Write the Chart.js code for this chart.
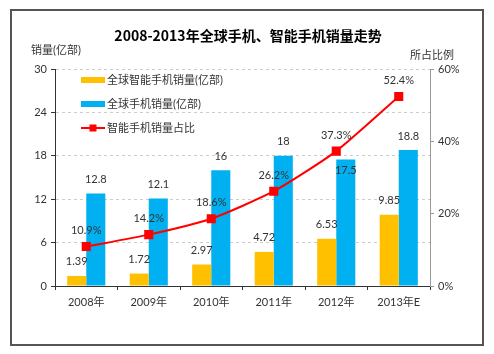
<!DOCTYPE html>
<html><head><meta charset="utf-8">
<script src="https://cdn.jsdelivr.net/npm/chart.js@4.4.0/dist/chart.umd.min.js"></script>
<style>html,body{margin:0;padding:0;background:#fff}#wrap{width:494px;height:354px;position:relative}</style>
</head><body><div id="wrap"><canvas id="c" width="494" height="354"></canvas></div>
<script>
const categories = ['2008年','2009年','2010年','2011年','2012年','2013年E'];
const smartSales = [1.39, 1.72, 2.97, 4.72, 6.53, 9.85];
const totalSales = [12.8, 12.1, 16, 18, 17.5, 18.8];
const smartShare = [10.9, 14.2, 18.6, 26.2, 37.3, 52.4];
const leftTicks = [0, 6, 12, 18, 24, 30];
const rightTicks = [0, 20, 40, 60];
const FONT = "Lato, 'Noto Sans CJK SC', sans-serif";
const TXT = '#333';

const decor = {
  id: 'decor',
  beforeDraw(chart) {
    const ctx = chart.ctx;
    ctx.save();
    ctx.fillStyle = '#fff';
    ctx.fillRect(0, 0, 494, 354);
    ctx.strokeStyle = '#555';
    ctx.lineWidth = 2;
    ctx.strokeRect(11, 10, 472, 335);
    ctx.fillStyle = '#000';
    ctx.font = "bold 14px 'Noto Sans CJK SC', sans-serif";
    ctx.textAlign = 'center';
    ctx.textBaseline = 'middle';
    ctx.fillText('2008-2013年全球手机、智能手机销量走势', 248, 36);
    ctx.fillStyle = TXT;
    ctx.font = "11px " + FONT;
    ctx.textAlign = 'left';
    ctx.fillText('销量(亿部)', 31, 50);
    ctx.fillText('所占比例', 410, 55);
    ctx.restore();
  },
  afterDatasetsDraw(chart) {
    const ctx = chart.ctx;
    ctx.save();
    ctx.font = "11px " + FONT;
    ctx.fillStyle = TXT;
    ctx.textAlign = 'center';
    ctx.textBaseline = 'middle';
    // percent label boxes
    const lineIdx = chart.data.datasets.findIndex(d => d.type === 'line');
    const lineMeta = chart.getDatasetMeta(lineIdx);
    const pctBoxes = lineMeta.data.map((el, j) => {
      const t = chart.data.datasets[lineIdx].data[j] + '%';
      const w = ctx.measureText(t).width;
      return { x1: el.x - w / 2, x2: el.x + w / 2, y1: el.y - 22, y2: el.y - 10 };
    });
    chart.data.datasets.forEach((ds, i) => {
      const meta = chart.getDatasetMeta(i);
      meta.data.forEach((el, j) => {
        const v = ds.data[j];
        if (ds.type === 'line') {
          ctx.fillText(v + '%', el.x, el.y - 16);
        } else {
          const t = String(v);
          const w = ctx.measureText(t).width;
          let y = el.y - 14;
          const b = pctBoxes[j];
          const overlap = (el.x + w / 2 > b.x1) && (el.x - w / 2 < b.x2) && (y + 6 > b.y1) && (y - 6 < b.y2);
          if (overlap) y = el.y + 11;
          ctx.fillText(t, el.x, y);
        }
      });
    });
    // legend
    const items = chart.data.datasets;
    const ys = [80, 104, 128];
    items.forEach((ds, i) => {
      const y = ys[i];
      if (ds.type === 'line') {
        ctx.strokeStyle = ds.borderColor;
        ctx.lineWidth = 2;
        ctx.beginPath(); ctx.moveTo(81, y); ctx.lineTo(105, y); ctx.stroke();
        ctx.fillStyle = ds.borderColor;
        ctx.fillRect(89.5, y - 3.5, 7, 7);
      } else {
        ctx.fillStyle = ds.backgroundColor;
        ctx.fillRect(81, y - 3, 24, 6);
      }
      ctx.fillStyle = TXT;
      ctx.textAlign = 'left';
      ctx.fillText(ds.label, 107, y);
    });
    ctx.restore();
  }
};

new Chart(document.getElementById('c'), {
  type: 'bar',
  data: {
    labels: categories,
    datasets: [
      { type: 'bar', label: '全球智能手机销量(亿部)', data: smartSales, backgroundColor: '#FFC000', yAxisID: 'y', order: 2,
        barPercentage: 1, categoryPercentage: 0.61 },
      { type: 'bar', label: '全球手机销量(亿部)', data: totalSales, backgroundColor: '#00B0F0', yAxisID: 'y', order: 2,
        barPercentage: 1, categoryPercentage: 0.61 },
      { type: 'line', label: '智能手机销量占比', data: smartShare, borderColor: '#FF0000', backgroundColor: '#FF0000',
        borderWidth: 2, pointStyle: 'rect', pointRadius: 5, pointHoverRadius: 5, yAxisID: 'y1', order: 1, tension: 0.2 }
    ]
  },
  options: {
    responsive: false,
    animation: false,
    events: [],
    layout: { padding: { top: 69, bottom: 38, left: 0, right: 0 } },
    plugins: { legend: { display: false }, title: { display: false }, tooltip: { enabled: false } },
    scales: {
      x: {
        offset: true,
        afterFit(s) { s.height = 30; },
        grid: { display: true, drawOnChartArea: false, offset: true, tickLength: 4, color: '#333' },
        border: { color: '#333', width: 1 },
        ticks: { color: TXT, font: { family: FONT, size: 11 }, padding: 6 }
      },
      y: {
        position: 'left', min: 0, max: 30,
        afterFit(s) { s.width = 55; },
        afterBuildTicks(s) { s.ticks = leftTicks.map(v => ({ value: v })); },
        grid: { color: '#ccc', tickColor: '#333', tickLength: 4 },
        border: { color: '#333', width: 1, dash: [3, 3] },
        ticks: { color: TXT, font: { family: FONT, size: 11 }, padding: 4 }
      },
      y1: {
        position: 'right', min: 0, max: 60,
        afterFit(s) { s.width = 64; },
        afterBuildTicks(s) { s.ticks = rightTicks.map(v => ({ value: v })); },
        grid: { drawOnChartArea: false, color: '#999', tickLength: 4 },
        border: { color: '#999', width: 1 },
        ticks: { color: TXT, font: { family: FONT, size: 11 }, padding: 4, callback: v => v + '%' }
      }
    }
  },
  plugins: [decor]
});
</script></body></html>
